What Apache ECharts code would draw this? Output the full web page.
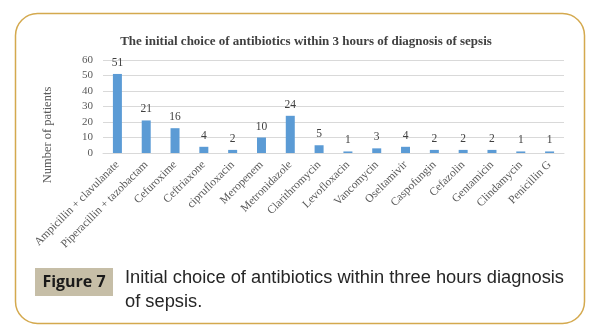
<!DOCTYPE html>
<html>
<head>
<meta charset="utf-8">
<script src="https://cdn.jsdelivr.net/npm/echarts@6/dist/echarts.min.js"></script>
<style>
  html, body { margin: 0; padding: 0; background: #fff; }
  #chart { width: 593px; height: 330px; }
</style>
</head>
<body>
<div id="chart"></div>
<script>
// Antibiotics chosen first, within 3 hours of a sepsis diagnosis
const categories = [
  'Ampicillin + clavulanate', 'Piperacillin + tazobactam', 'Cefuroxime', 'Ceftriaxone',
  'ciprufloxacin', 'Meropenem', 'Metronidazole', 'Clarithromycin', 'Levofloxacin',
  'Vancomycin', 'Oseltamivir', 'Caspofungin', 'Cefazolin', 'Gentamicin',
  'Clindamycin', 'Penicillin G'
];
const patients = [51, 21, 16, 4, 2, 10, 24, 5, 1, 3, 4, 2, 2, 2, 1, 1];
const yTicks = [0, 10, 20, 30, 40, 50, 60];

const serif = '"Liberation Serif", "DejaVu Serif", serif';

const chart = echarts.init(document.getElementById('chart'), null, { renderer: 'canvas' });
chart.setOption({
  animation: false,
  backgroundColor: '#ffffff',
  title: {
    text: 'The initial choice of antibiotics within 3 hours of diagnosis of sepsis',
    left: 301, top: 30, textAlign: 'center',
    textStyle: { fontFamily: serif, fontWeight: 'bold', fontSize: 13, color: '#404040' }
  },
  grid: { left: 103, right: 29, top: 60, bottom: 177, containLabel: false },
  xAxis: {
    type: 'category',
    data: categories,
    axisLine: { lineStyle: { color: '#d9d9d9' } },
    axisTick: { show: false },
    axisLabel: { interval: 0, rotate: 45, fontFamily: serif, fontSize: 11.5, color: '#595959', margin: 10 }
  },
  yAxis: {
    type: 'value',
    min: yTicks[0], max: yTicks[yTicks.length - 1], interval: 10,
    axisLine: { show: false },
    axisTick: { show: false },
    splitLine: { lineStyle: { color: '#d9d9d9', width: 1 } },
    axisLabel: { fontFamily: serif, fontSize: 11, color: '#595959', margin: 10 }
  },
  series: [{
    type: 'bar',
    data: patients,
    barWidth: 9,
    itemStyle: { color: '#5b9bd5' },
    label: { show: true, position: 'top', distance: 5, fontFamily: serif, fontSize: 11.5, color: '#404040' }
  }],
  graphic: [
    {
      type: 'rect', silent: true, z: -1,
      shape: { x: 15.5, y: 13.5, width: 569, height: 310, r: 22 },
      style: { fill: 'none', stroke: '#d4a94e', lineWidth: 1.5 }
    },
    {
      // vertical axis caption
      type: 'text', silent: true,
      x: 48, y: 135, rotation: Math.PI / 2,
      style: { text: 'Number of patients', fontFamily: serif, fontSize: 12.5, fill: '#595959',
               align: 'center', verticalAlign: 'middle' }
    },
    {
      type: 'rect', silent: true,
      shape: { x: 35, y: 268, width: 78, height: 28 },
      style: { fill: '#c6bea7' }
    },
    {
      type: 'text', silent: true,
      x: 74, y: 282,
      style: { text: 'Figure 7', fontFamily: '"Open Sans", "Liberation Sans", sans-serif', fontWeight: 'bold',
               fontSize: 16, fill: '#1a1a1a', align: 'center', verticalAlign: 'middle' }
    },
    {
      type: 'text', silent: true,
      x: 125, y: 266,
      style: { text: 'Initial choice of antibiotics within three hours diagnosis\nof sepsis.',
               fontFamily: '"Liberation Sans", "Open Sans", sans-serif', fontSize: 18.3, lineHeight: 24,
               fill: '#262626', align: 'left', verticalAlign: 'top' }
    }
  ]
});
</script>
</body>
</html>
